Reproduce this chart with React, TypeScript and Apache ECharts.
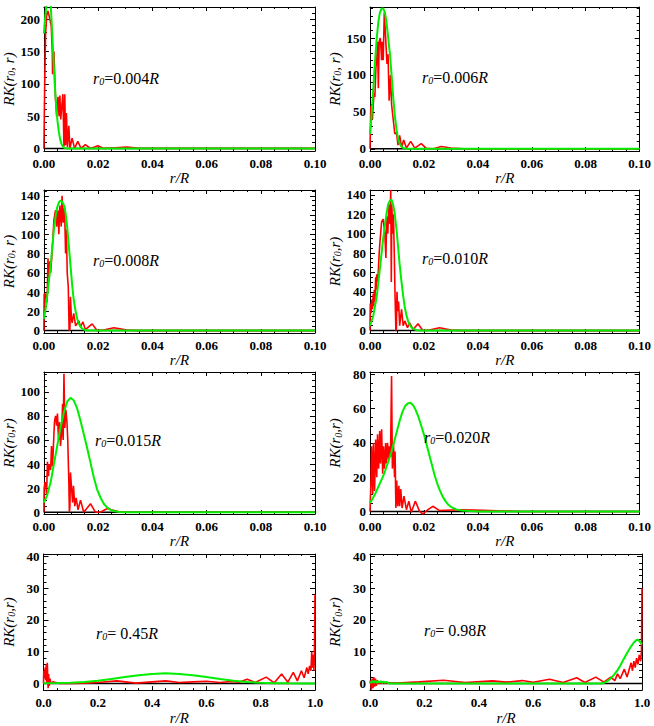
import { useEffect, useRef } from 'react';
import * as echarts from 'echarts';

type Pt = [number, number];

// ---------- data ----------
const r0Labels = ['0.004', '0.006', '0.008', '0.010', '0.015', '0.020', ' 0.45', ' 0.98'];

const red1: Pt[] = [[0,0],[0.0003,100],[0.0006,175],[0.001,205],[0.0015,213],[0.0022,200],[0.0027,190],[0.0031,150],[0.0032,115],[0.0034,118],[0.0037,150],[0.004,110],[0.0043,75],[0.0047,50],[0.0052,80],[0.0056,50],[0.0059,82],[0.0062,45],[0.0065,60],[0.007,84],[0.0074,3],[0.0077,84],[0.008,5],[0.0083,55],[0.0087,2],[0.0092,35],[0.0096,0],[0.0104,16],[0.0113,0],[0.0125,11],[0.0137,0],[0.0153,6],[0.0172,0],[0.0199,4],[0.0221,0],[0.0264,1],[0.0307,2],[0.035,0],[0.05,0],[0.1,0]];
const green1: Pt[] = [[0,178],[0.0005,205],[0.001,225],[0.0015,235],[0.002,235],[0.0025,222],[0.003,185],[0.0035,140],[0.004,100],[0.0045,68],[0.005,43],[0.0055,26],[0.006,14],[0.0065,7],[0.007,3],[0.0075,1],[0.008,0.3],[0.009,0],[0.1,0]];

const red2: Pt[] = [[0,0],[0.0003,58],[0.0006,50],[0.0009,40],[0.0012,60],[0.0015,75],[0.0018,70],[0.0022,110],[0.0025,120],[0.0028,145],[0.0031,82],[0.0034,145],[0.0038,150],[0.0041,135],[0.0043,120],[0.0045,145],[0.0049,120],[0.0053,185],[0.0058,150],[0.0063,115],[0.0067,128],[0.0071,65],[0.0076,100],[0.008,60],[0.0086,40],[0.0092,20],[0.0098,22],[0.0104,5],[0.011,18],[0.0117,2],[0.0125,12],[0.0135,1],[0.0151,10],[0.0166,1],[0.019,7],[0.0209,0.5],[0.0235,0],[0.0264,3],[0.0301,1],[0.035,0],[0.1,0]];
const green2: Pt[] = [[0,20],[0.0006,45],[0.0012,80],[0.0018,115],[0.0025,150],[0.0031,172],[0.0037,185],[0.0043,190],[0.0049,190],[0.0055,185],[0.0061,172],[0.0067,152],[0.0074,128],[0.008,100],[0.0086,70],[0.0092,45],[0.0098,27],[0.0104,14],[0.011,7],[0.0117,3],[0.0123,1],[0.0135,0.2],[0.015,0],[0.1,0]];

const red3: Pt[] = [[0,0],[0.0001,38],[0.0006,38],[0.0009,28],[0.0012,32],[0.0015,75],[0.0018,55],[0.0022,72],[0.0025,60],[0.0031,85],[0.0037,115],[0.0043,125],[0.0047,108],[0.0052,125],[0.0055,100],[0.0059,130],[0.0064,108],[0.0067,140],[0.0071,112],[0.0076,130],[0.008,80],[0.0083,105],[0.0086,60],[0.009,45],[0.0093,0],[0.0096,2],[0.0098,35],[0.0101,15],[0.0104,8],[0.011,18],[0.0117,5],[0.0129,10],[0.0135,4],[0.0144,9],[0.0153,1],[0.0178,7],[0.0196,0],[0.022,0.5],[0.0258,3],[0.0307,0.5],[0.035,0],[0.1,0]];
const green3: Pt[] = [[0,12],[0.0006,22],[0.0012,35],[0.0018,50],[0.0025,68],[0.0031,87],[0.0037,105],[0.0043,118],[0.0049,128],[0.0055,133],[0.0061,135],[0.0067,134],[0.0074,130],[0.008,122],[0.0086,107],[0.0092,88],[0.0098,68],[0.0104,48],[0.011,32],[0.0117,20],[0.0123,12],[0.0129,7],[0.0135,4],[0.0141,2],[0.015,0.8],[0.016,0.2],[0.017,0],[0.1,0]];

const red4: Pt[] = [[0,0],[0.0001,28],[0.0004,18],[0.0007,32],[0.0009,22],[0.0012,38],[0.0014,25],[0.0016,42],[0.0018,30],[0.0021,55],[0.0023,42],[0.0025,58],[0.0028,50],[0.0031,62],[0.0034,80],[0.0038,95],[0.0043,112],[0.0049,115],[0.0055,100],[0.0059,75],[0.0062,118],[0.0066,100],[0.007,130],[0.0074,110],[0.0077,145],[0.0079,50],[0.0081,130],[0.0084,100],[0.0087,120],[0.009,80],[0.0093,35],[0.0096,0],[0.0098,2],[0.01,40],[0.0103,20],[0.0106,30],[0.011,5],[0.0117,22],[0.0123,5],[0.0129,10],[0.0139,3],[0.0147,8],[0.016,1],[0.0178,7],[0.0196,0],[0.022,0.5],[0.0258,3],[0.0301,0.5],[0.035,0],[0.1,0]];
const green4: Pt[] = [[0,5],[0.0012,15],[0.0025,35],[0.0037,65],[0.0049,95],[0.0055,108],[0.0061,120],[0.0067,130],[0.0074,134],[0.008,135],[0.0086,130],[0.0092,120],[0.0098,105],[0.0104,87],[0.011,68],[0.0117,50],[0.0123,36],[0.0129,24],[0.0135,16],[0.0141,10],[0.0147,6],[0.0153,3.5],[0.016,2],[0.017,0.7],[0.018,0.2],[0.019,0],[0.1,0]];

const red5: Pt[] = [[0,0],[0.0001,20],[0.0004,25],[0.0007,22],[0.001,15],[0.0013,42],[0.0017,30],[0.0019,40],[0.0021,38],[0.0025,35],[0.0028,55],[0.0032,38],[0.0036,60],[0.0039,75],[0.0043,80],[0.0047,72],[0.005,82],[0.0054,60],[0.0058,75],[0.0061,55],[0.0065,65],[0.0069,90],[0.0071,60],[0.0074,115],[0.0077,70],[0.0081,85],[0.0085,75],[0.0088,60],[0.0092,25],[0.0094,0],[0.0096,5],[0.0098,33],[0.0102,20],[0.0106,8],[0.0109,22],[0.0114,5],[0.0119,12],[0.0126,2],[0.0135,10],[0.0147,0],[0.0172,7],[0.019,0],[0.021,0.2],[0.0233,3],[0.0276,0.3],[0.031,0],[0.1,0]];
const green5: Pt[] = [[0,8],[0.0012,14],[0.0025,25],[0.0037,40],[0.0049,55],[0.0061,70],[0.0074,83],[0.0086,92],[0.0098,95],[0.011,93],[0.0123,86],[0.0135,76],[0.0147,65],[0.016,53],[0.0172,41],[0.0184,29],[0.0196,19],[0.0209,12],[0.0221,7],[0.0233,4],[0.0245,2],[0.026,0.8],[0.028,0.2],[0.03,0],[0.1,0]];

const red6: Pt[] = [[0,0],[0.0004,20],[0.0006,38],[0.001,10],[0.0013,40],[0.0017,12],[0.0021,42],[0.0025,20],[0.0028,45],[0.0032,25],[0.0036,47],[0.0039,28],[0.0043,48],[0.0047,22],[0.005,38],[0.0054,25],[0.0058,40],[0.0061,28],[0.0065,40],[0.0069,30],[0.0072,38],[0.0076,32],[0.008,79],[0.0083,25],[0.0087,40],[0.0091,20],[0.0093,35],[0.0096,2],[0.0099,18],[0.0103,3],[0.0107,15],[0.011,3],[0.0114,13],[0.0119,2],[0.0126,9],[0.0135,1],[0.0144,6],[0.0153,-0.5],[0.0168,6],[0.0184,0],[0.0196,-1.5],[0.0215,1],[0.0233,3],[0.0258,0.5],[0.0325,1],[0.0387,0.8],[0.0472,0.3],[0.057,0],[0.1,0]];
const green6: Pt[] = [[0,5],[0.001,7.5],[0.002,10.5],[0.003,14],[0.004,17.5],[0.005,21],[0.006,25.5],[0.007,30],[0.008,35],[0.009,41],[0.01,47],[0.011,53],[0.012,58],[0.013,61.5],[0.014,63],[0.015,63.5],[0.016,62],[0.017,59],[0.018,55],[0.019,50],[0.02,45],[0.021,39],[0.022,33],[0.023,27],[0.024,21],[0.025,16],[0.026,12],[0.027,8.5],[0.028,6],[0.029,4],[0.03,2.7],[0.032,1.2],[0.034,0.5],[0.037,0.2],[0.04,0],[0.1,0]];

const red7: Pt[] = [[0,0],[0.001,4],[0.004,2],[0.006,5],[0.008,1],[0.01,6],[0.012,0],[0.014,6.5],[0.017,-1.5],[0.019,3],[0.021,-0.8],[0.024,1.5],[0.027,0],[0.035,0.5],[0.045,0.3],[0.06,0],[0.1,0],[0.15,0.1],[0.2,0.3],[0.27,0.8],[0.34,0.1],[0.4,0.5],[0.45,0.8],[0.5,0.3],[0.55,0.5],[0.6,0.7],[0.65,0.3],[0.69,0.6],[0.72,0.4],[0.75,1.3],[0.78,0.3],[0.82,2],[0.85,0.2],[0.877,3],[0.9,0.4],[0.92,3.5],[0.935,0.8],[0.95,4],[0.96,1.8],[0.97,5],[0.975,3],[0.98,5.5],[0.985,4],[0.988,10],[0.99,5],[0.993,9],[0.996,4],[0.998,10],[1,28]];
const green7: Pt[] = [[0,0.03],[0.05,0.1],[0.1,0.2],[0.15,0.45],[0.2,0.85],[0.25,1.4],[0.3,2],[0.35,2.6],[0.4,3],[0.45,3.2],[0.5,3],[0.55,2.6],[0.6,2],[0.65,1.4],[0.7,0.85],[0.75,0.45],[0.8,0.2],[0.85,0.08],[0.9,0.02],[0.95,0],[1,0]];

const red8: Pt[] = [[0,0],[0.002,1],[0.005,-2],[0.008,1.5],[0.011,-1.5],[0.014,2],[0.017,-1],[0.02,1.5],[0.023,-0.8],[0.026,1],[0.03,0],[0.05,0.2],[0.1,0.1],[0.18,0.5],[0.27,1],[0.35,0.3],[0.45,0.8],[0.5,0.4],[0.56,0.9],[0.6,0.4],[0.66,1.3],[0.71,0.3],[0.76,1.8],[0.79,0.3],[0.83,2],[0.86,0.4],[0.885,2],[0.9,0.9],[0.91,3],[0.92,1.5],[0.935,4.5],[0.945,2],[0.955,5],[0.96,6.5],[0.965,4],[0.97,7],[0.975,5],[0.98,8],[0.985,6],[0.99,9],[0.995,7],[0.998,10],[1,30]];
const green8: Pt[] = [[0,0.5],[0.005,0.2],[0.01,0.8],[0.015,0.3],[0.02,0.8],[0.025,0.2],[0.03,0.7],[0.035,0.3],[0.04,0.7],[0.045,0.2],[0.05,0.6],[0.055,0.2],[0.06,0.5],[0.07,0],[0.85,0],[0.86,0.2],[0.87,0.6],[0.88,1.2],[0.89,2],[0.9,3],[0.91,4.2],[0.92,5.6],[0.93,7.2],[0.94,8.8],[0.95,10.3],[0.96,11.7],[0.97,12.9],[0.98,13.7],[0.985,13.8],[0.99,13.4],[1,12.3]];

const redSeries = [red1, red2, red3, red4, red5, red6, red7, red8];
const greenSeries = [green1, green2, green3, green4, green5, green6, green7, green8];

// axis ranges and tick steps
const yMins = [-4, -3, -2.5, -2.5, -1.5, -1.5, -2.1, -2.1];
const yMaxs = [219, 192, 146, 145, 116.5, 81.4, 40.8, 40.8];
const yMajorSteps = [50, 50, 20, 20, 20, 20, 10, 10];
const yMinorSteps = [10, 10, 5, 5, 5, 5, 2, 2];
const xMaxs = [0.1, 0.1, 0.1, 0.1, 0.1, 0.1, 1, 1];
const xMajorSteps = [0.02, 0.02, 0.02, 0.02, 0.02, 0.02, 0.2, 0.2];
const xMinorSteps = [0.005, 0.005, 0.005, 0.005, 0.005, 0.005, 0.05, 0.05];
const xDecimals = [2, 2, 2, 2, 2, 2, 1, 1];
const yNames = ['{i|RK(r}{s|0}{i|, r)}', '{i|RK(r}{s|0}{i|, r)}', '{i|RK(r}{s|0}{i|, r)}', '{i|RK(r}{s|0}{i|,r)}', '{i|RK(r}{s|0}{i|,r)}', '{i|RK(r}{s|0}{i|,r)}', '{i|RK(r}{s|0}{i|,r)}', '{i|RK(r}{s|0}{i|,r)}'];

// ---------- layout ----------
const SERIF = '"Liberation Serif", "DejaVu Serif", serif';
const COL_LEFT = [43, 370];
const ROW_TOP = [7, 190, 372, 554];
const ROW_H = [144, 143, 142, 143];
const PLOT_W = 272;
const ANN_POS: [number, number][] = [[93, 78], [422, 77], [93, 260], [422, 258], [95, 440], [424, 437], [96, 633], [424, 630]];

function ticks(from: number, to: number, step: number): number[] {
  const out: number[] = [];
  const start = Math.ceil(from / step - 1e-9);
  for (let k = start; k * step <= to + 1e-9; k++) out.push(+(k * step).toFixed(6));
  return out;
}

const richName = {
  i: { fontFamily: SERIF, fontStyle: 'italic', fontSize: 15, color: '#000' },
  s: { fontFamily: SERIF, fontStyle: 'italic', fontSize: 10, color: '#000', padding: [6, 0, 0, 0] },
};
const richAnn = {
  i: { fontFamily: SERIF, fontStyle: 'italic', fontSize: 16, color: '#000' },
  n: { fontFamily: SERIF, fontSize: 16, color: '#000' },
  s: { fontFamily: SERIF, fontStyle: 'italic', fontSize: 10, color: '#000', padding: [7, 0, 0, 0] },
};

function buildOption() {
  const grid: any[] = [];
  const xAxis: any[] = [];
  const yAxis: any[] = [];
  const series: any[] = [];
  const graphic: any[] = [];
  const lineStyle = { color: '#000', width: 1 };

  for (let i = 0; i < 8; i++) {
    const col = i % 2;
    const row = Math.floor(i / 2);
    grid.push({ left: COL_LEFT[col], top: ROW_TOP[row], width: PLOT_W, height: ROW_H[row] });

    const xMajor = ticks(0, xMaxs[i], xMajorSteps[i]);
    const xMinor = ticks(0, xMaxs[i], xMinorSteps[i]).filter((v) => !xMajor.some((m) => Math.abs(m - v) < 1e-9));
    const yMajor = ticks(0, yMaxs[i], yMajorSteps[i]);
    const yMinor = ticks(yMins[i], yMaxs[i], yMinorSteps[i]).filter((v) => !yMajor.some((m) => Math.abs(m - v) < 1e-9));

    const base = (position: string, min: number, max: number) => ({
      type: 'value', gridIndex: i, position, min, max,
      axisLine: { show: true, onZero: false, lineStyle },
      splitLine: { show: false },
      axisLabel: { show: false },
      axisTick: { show: false },
      minorTick: { show: false },
    });
    const dec = xDecimals[i];
    // x axes: bottom major, bottom minor, top major, top minor
    xAxis.push({
      ...base('bottom', 0, xMaxs[i]),
      axisTick: { show: true, inside: true, length: 4, customValues: xMajor, lineStyle },
      axisLabel: {
        show: true, customValues: xMajor, margin: 6, color: '#000', fontFamily: SERIF, fontSize: 13, fontWeight: 'bold',
        formatter: (v: number) => v.toFixed(dec),
      },
      name: 'r/R', nameLocation: 'middle', nameGap: 18,
      nameTextStyle: { fontFamily: SERIF, fontStyle: 'italic', fontSize: 15, color: '#000' },
    });
    xAxis.push({ ...base('bottom', 0, xMaxs[i]), axisLine: { show: false, onZero: false }, axisTick: { show: true, inside: true, length: 2, customValues: xMinor, lineStyle } });
    xAxis.push({ ...base('top', 0, xMaxs[i]), axisTick: { show: true, inside: true, length: 4, customValues: xMajor, lineStyle } });
    xAxis.push({ ...base('top', 0, xMaxs[i]), axisLine: { show: false, onZero: false }, axisTick: { show: true, inside: true, length: 2, customValues: xMinor, lineStyle } });

    // y axes: left major, left minor, right major, right minor
    yAxis.push({
      ...base('left', yMins[i], yMaxs[i]),
      axisTick: { show: true, inside: true, length: 5, customValues: yMajor, lineStyle },
      axisLabel: {
        show: true, customValues: yMajor, margin: 4, color: '#000', fontFamily: SERIF, fontSize: 13, fontWeight: 'bold',
        formatter: (v: number) => String(Math.round(v)),
      },
      name: yNames[i], nameLocation: 'middle', nameRotate: 90, nameGap: 27,
      nameTextStyle: { rich: richName },
    });
    yAxis.push({ ...base('left', yMins[i], yMaxs[i]), axisLine: { show: false, onZero: false }, axisTick: { show: true, inside: true, length: 3, customValues: yMinor, lineStyle } });
    yAxis.push({ ...base('right', yMins[i], yMaxs[i]), axisTick: { show: true, inside: true, length: 5, customValues: yMajor, lineStyle } });
    yAxis.push({ ...base('right', yMins[i], yMaxs[i]), axisLine: { show: false, onZero: false }, axisTick: { show: true, inside: true, length: 3, customValues: yMinor, lineStyle } });

    const common = { type: 'line', xAxisIndex: i * 4, yAxisIndex: i * 4, showSymbol: false, symbol: 'none', silent: true, clip: true };
    series.push({ ...common, data: [[0, 0], [xMaxs[i], 0]], lineStyle: { color: '#000', width: 1.5 }, z: 2 });
    series.push({ ...common, data: redSeries[i], lineStyle: { color: '#ff0000', width: 1.6 }, z: 3 });
    series.push({ ...common, data: greenSeries[i], lineStyle: { color: '#00ee00', width: 2 }, z: 4 });

    graphic.push({
      type: 'text', x: ANN_POS[i][0], y: ANN_POS[i][1], z: 10,
      style: { text: `{i|r}{s|0}{n|=${r0Labels[i]}}{i|R}`, rich: richAnn, verticalAlign: 'middle', align: 'left' },
    });
  }

  return { animation: false, backgroundColor: '#fff', grid, xAxis, yAxis, series, graphic };
}

export default function App() {
  const ref = useRef<HTMLDivElement>(null);
  useEffect(() => {
    if (!ref.current) return;
    const chart = echarts.init(ref.current, undefined, { renderer: 'svg' });
    chart.setOption(buildOption() as any);
    return () => chart.dispose();
  }, []);
  return <div ref={ref} style={{ position: 'absolute', left: 0, top: 0, width: 654, height: 726, background: '#fff' }} />;
}
